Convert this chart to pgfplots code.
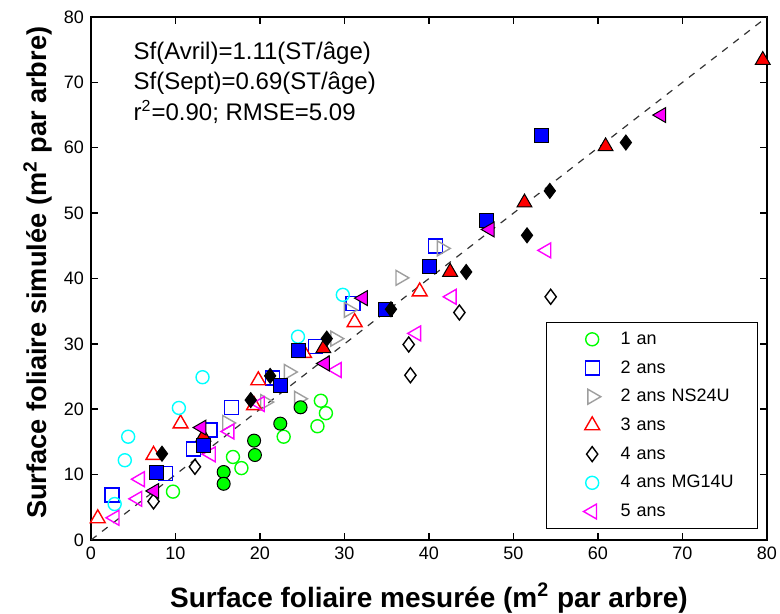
\documentclass[border=0pt]{standalone}
\usepackage{fontspec}
\setmainfont{Liberation Sans}
\usepackage{pgfplots}
\pgfplotsset{compat=1.18}
\definecolor{mgreen}{rgb}{0,1,0}
\definecolor{mblue}{rgb}{0,0,1}
\definecolor{mgray}{rgb}{0.62,0.62,0.62}
\definecolor{mred}{rgb}{1,0,0}
\definecolor{mcyan}{rgb}{0,1,1}
\definecolor{mmag}{rgb}{1,0,1}
\pgfplotsset{
  lg/.style={only marks, line width=0.7pt,
    legend image code/.code={\node[draw=none, fill=none, inner sep=0pt, outer sep=0pt, text width=32.5pt, text height=0pt, text depth=0pt, minimum height=0pt, minimum width=32.5pt, anchor=west] at (0pt,0pt) {}; \draw[##1,only marks] plot coordinates {(21.3pt,0pt)};}},
  fl/.style={only marks, forget plot, line width=0.5pt, draw=black},
}
\begin{document}
\begin{tikzpicture}
\path[use as bounding box] (-45.5pt,-37pt) rectangle (344.5pt,270pt);
\begin{axis}[
  scale only axis, width=338pt, height=261.5pt,
  xmin=0, xmax=80, ymin=0, ymax=80,
  xtick={0,10,...,80}, ytick={0,10,...,80},
  tick align=inside, major tick length=3.5pt,
  axis line style={line width=0.75pt},
  every tick/.style={black, line width=0.75pt},
  tick label style={font=\fontsize{9}{10}\selectfont},
  /pgf/number format/assume math mode=true,
  xlabel={Surface foliaire mesurée (m\textsuperscript{2} par arbre)},
  ylabel={Surface foliaire simulée (m\textsuperscript{2} par arbre)},
  xlabel style={font=\bfseries\fontsize{14}{16}\selectfont, at={([yshift=-33.5pt]axis description cs:0.5,0)}, anchor=base},
  ylabel style={font=\bfseries\fontsize{13.6}{16}\selectfont, at={([xshift=-22pt]axis description cs:0,0.511)}, anchor=base},
  legend style={font=\fontsize{9}{10}\selectfont, draw=black, line width=0.6pt,
    at={(0.987,0.021)}, anchor=south east, inner xsep=1.5pt, inner ysep=3.45pt,
    row sep=4.35pt,
    nodes={text height=6.5pt, text depth=1.5pt, inner ysep=1pt, inner xsep=3pt, text width=64pt, align=left},
    cells={anchor=west}},
]
\addplot[forget plot, black!80, line width=0.6pt, dash pattern=on 3.5pt off 3.5pt] coordinates {(0,0) (80,80)};

% open markers (legend)
\addplot[lg, mgreen, mark=o, mark size=3.25pt] coordinates {
(9.7,7.4) (16.8,12.7) (17.8,11.0) (22.8,15.8) (26.8,17.4) (27.2,21.3) (27.8,19.4)};
\addlegendentry{1 an}
\addplot[lg, mblue, mark=square, mark size=3.5pt] coordinates {
(2.5,6.9) (8.8,10.2) (12.1,13.9) (14.1,16.8) (16.6,20.3) (21.5,24.8) (26.6,29.6) (31.0,36.2) (40.8,45.0)};
\addlegendentry{2 ans}
\addplot[lg, mgray, mark=triangle, mark size=4.3pt, mark options={rotate=-90}] coordinates {
(16.1,17.9) (20.6,21.1) (23.4,25.7) (24.6,21.6) (28.9,30.8) (30.5,35.2) (36.6,40.1) (41.5,44.6)};
\addlegendentry{2 ans NS24U}
\addplot[lg, mred, mark=triangle, mark size=4.3pt] coordinates {
(0.8,3.3) (7.4,13.0) (10.6,17.8) (19.3,20.6) (19.8,24.4) (25.2,28.6) (31.2,33.3) (38.9,38.0)};
\addlegendentry{3 ans}
\addplot[lg, black, mark=diamond, mark size=3.75pt] coordinates {
(7.4,5.9) (12.3,11.2) (37.6,29.9) (37.8,25.2) (43.6,34.8) (54.4,37.2)};
\addlegendentry{4 ans}
\addplot[lg, mcyan, mark=o, mark size=3.25pt] coordinates {
(2.8,5.5) (4.0,12.2) (4.4,15.8) (10.4,20.2) (13.2,24.9) (24.5,31.1) (29.8,37.5)};
\addlegendentry{4 ans MG14U}
\addplot[lg, mmag, mark=triangle, mark size=4.3pt, mark options={rotate=90}] coordinates {
(2.8,3.4) (5.5,6.3) (5.8,9.3) (14.2,13.1) (16.4,16.6) (20.0,20.8) (29.1,26.0) (38.5,31.6) (42.7,37.2) (53.9,44.3)};
\addlegendentry{5 ans}

% filled markers
\addplot[fl, mark=*, mark size=3.25pt, fill=mgreen] coordinates {
(15.7,10.4) (15.7,8.6) (19.3,15.2) (19.4,13.0) (22.4,17.8) (24.8,20.3)};
\addplot[fl, mark=triangle*, mark size=4.3pt, fill=mred] coordinates {
(13.3,15.8) (27.5,29.3) (42.5,41.0) (51.3,51.6) (60.9,60.2) (79.5,73.4)};
\addplot[fl, mark=square*, mark size=3.5pt, fill=mblue] coordinates {
(7.8,10.3) (13.3,14.5) (22.4,23.7) (24.5,29.0) (34.8,35.3) (40.1,41.9) (46.8,48.9) (53.3,61.9)};
\addplot[fl, mark=diamond*, mark size=3.75pt, fill=black] coordinates {
(8.4,13.2) (18.9,21.4) (21.2,25.1) (27.9,30.8) (35.5,35.3) (44.4,41.0) (51.6,46.6) (54.3,53.4) (63.3,60.8)};
\addplot[fl, mark=triangle*, mark size=4.3pt, fill=mmag, mark options={rotate=90}] coordinates {
(7.5,7.5) (13.1,17.2) (27.7,27.0) (32.2,37.0) (47.2,47.5) (67.5,65.0)};

\node[anchor=north west, align=left, inner sep=0pt, font=\fontsize{12}{15}\selectfont]
  at (axis cs:5.0,76.2) {Sf(Avril)=1.11(ST/âge)\\Sf(Sept)=0.69(ST/âge)\\[0.5pt]r\textsuperscript{2}=0.90; RMSE=5.09};
\end{axis}
\end{tikzpicture}
\end{document}
